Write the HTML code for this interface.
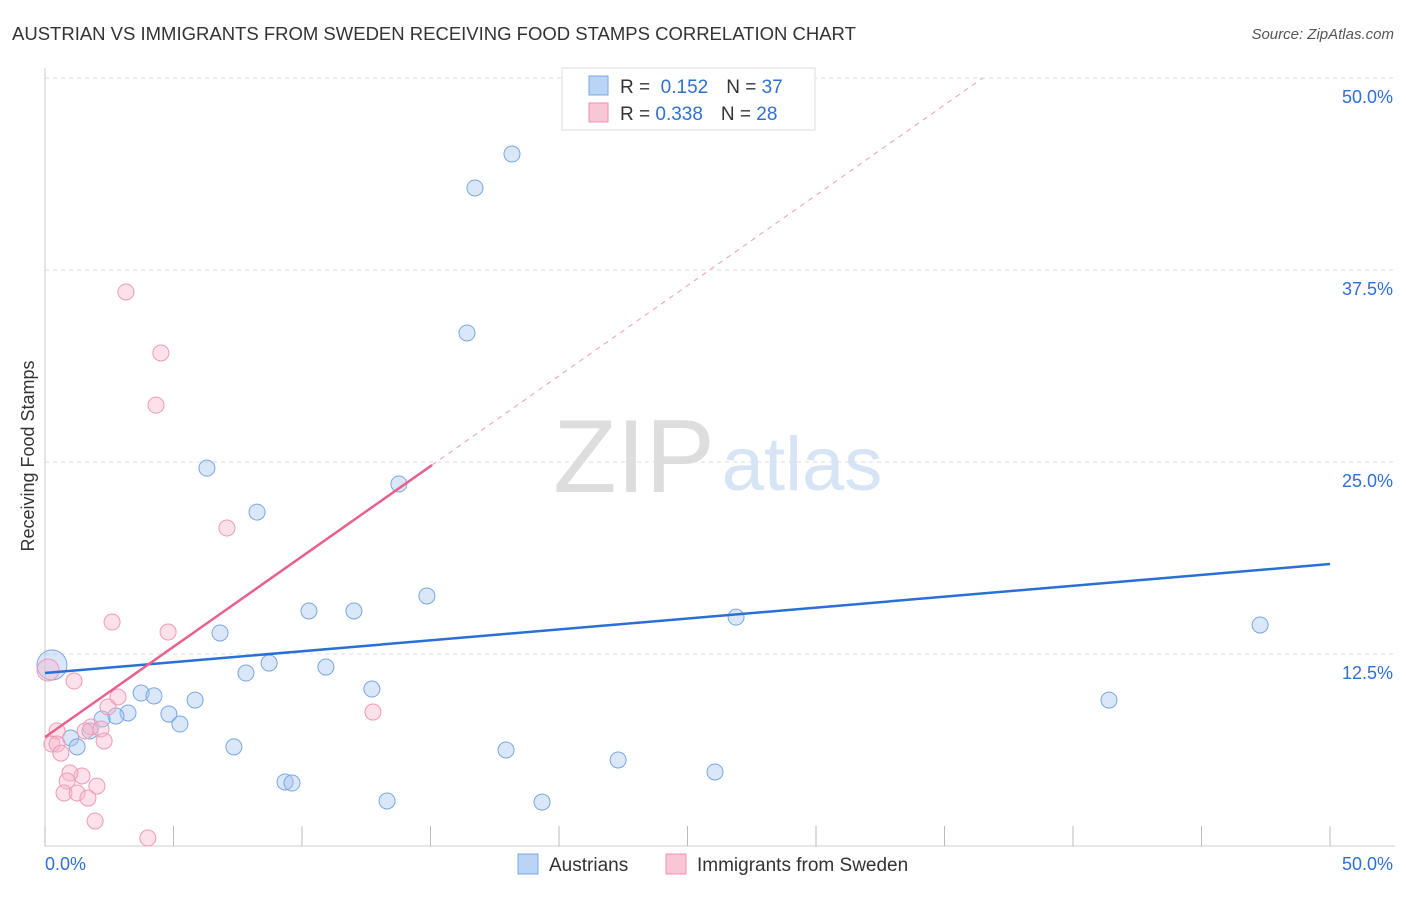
<!DOCTYPE html>
<html><head><meta charset="utf-8"><style>
body{margin:0;background:#fff;font-family:"Liberation Sans",sans-serif;}
svg text{font-family:"Liberation Sans",sans-serif;}
</style></head><body>
<svg id="chart" width="1406" height="892" xmlns="http://www.w3.org/2000/svg">
<text x="12" y="40" font-size="18.5" fill="#333">AUSTRIAN VS IMMIGRANTS FROM SWEDEN RECEIVING FOOD STAMPS CORRELATION CHART</text>
<text x="1394" y="39" font-size="15" fill="#555" font-style="italic" text-anchor="end">Source: ZipAtlas.com</text>
<text x="634" y="492" font-size="104" fill="#ddd" font-family="Liberation Serif" text-anchor="middle">ZIP</text>
<text x="802" y="490" font-size="76" fill="#d6e4f5" text-anchor="middle">atlas</text>
<text transform="translate(34,456) rotate(-90)" font-size="18" fill="#333" text-anchor="middle">Receiving Food Stamps</text>
<g id="grid"></g><g id="marks"></g>
<g>
<rect x="562" y="68" width="253" height="62" fill="#fff" stroke="#ddd"/>
<rect x="589" y="76" width="19" height="19" fill="#b9d4f5" stroke="#7aaae6"/>
<rect x="589" y="103" width="19" height="19" fill="#f9c6d6" stroke="#ee93b1"/>
<text x="620" y="93" font-size="19" fill="#333">R = <tspan fill="#2f6fd6">&#160;0.152</tspan><tspan dx="18">N = </tspan><tspan fill="#2f6fd6">37</tspan></text>
<text x="620" y="120" font-size="19" fill="#333">R = <tspan fill="#2f6fd6">0.338</tspan><tspan dx="18">N = </tspan><tspan fill="#2f6fd6">28</tspan></text>
</g>
<g>
<rect x="518" y="854" width="20" height="20" fill="#b9d4f5" stroke="#7aaae6"/>
<text x="549" y="871" font-size="19" fill="#333">Austrians</text>
<rect x="666" y="854" width="20" height="20" fill="#f9c6d6" stroke="#ee93b1"/>
<text x="697" y="871" font-size="19" fill="#333">Immigrants from Sweden</text>
</g>
</svg>
<script>
const yTicks=[12.5,25,37.5,50];
const yTickLabels=["12.5%","25.0%","37.5%","50.0%"];
const xTickLabels=["0.0%","50.0%"];
const blueX=[18.17,16.73,16.42,6.30,13.77,8.25,14.86,10.27,12.02,26.89,47.28,6.81,0.27,8.72,10.93,7.82,12.72,3.74,4.24,5.84,41.4,3.23,4.82,2.76,2.22,5.25,1.75,1.0,1.25,7.35,17.94,22.3,26.07,9.34,9.61,13.31,19.34];
const blueY=[45.05,42.84,33.4,24.6,23.57,21.74,16.28,15.3,15.3,14.9,14.39,13.87,11.78,11.91,11.65,11.26,10.22,9.96,9.77,9.5,9.5,8.66,8.59,8.46,8.27,7.94,7.49,7.03,6.45,6.45,6.25,5.6,4.82,4.17,4.1,2.93,2.86];
const pinkX=[3.15,4.51,4.32,7.08,2.61,4.79,0.12,1.13,2.84,2.45,12.76,1.79,1.56,2.18,0.47,2.3,0.27,0.47,0.62,1.44,0.97,0.86,2.02,0.74,1.25,1.67,1.95,4.0];
const pinkY=[36.07,32.1,28.7,20.7,14.58,13.93,11.46,10.74,9.7,9.05,8.72,7.75,7.49,7.62,7.49,6.84,6.64,6.64,6.05,4.56,4.75,4.23,3.9,3.45,3.45,3.12,1.63,0.52];
const blueTrend=[11.26,18.36];
const pinkTrend=[7.09,1.176];
const X=v=>45+v*25.7, Y=v=>846-v*15.36;
const NS="http://www.w3.org/2000/svg";
function mk(t,a,p){const e=document.createElementNS(NS,t);for(const k in a)e.setAttribute(k,a[k]);p.appendChild(e);return e;}
const g=document.getElementById('grid'), m=document.getElementById('marks');
yTicks.forEach((t,i)=>{
 const l=mk('line',{x1:45,x2:1395,y1:Y(t),y2:Y(t),stroke:'#ddd','stroke-dasharray':'4,4'},g);
 
 
 const tx=mk('text',{x:1393,y:Y(t)+25,'font-size':18,fill:'#2f6fd6','text-anchor':'end'},g);
 tx.textContent=yTickLabels[i];
 
 
});
mk('line',{x1:45,x2:45,y1:68,y2:846,stroke:'#ccc'},g);
mk('line',{x1:45,x2:1395,y1:846,y2:846,stroke:'#ccc'},g);
for(let i=0;i<=10;i++){mk('line',{x1:X(i*5),x2:X(i*5),y1:826,y2:846,stroke:'#bbb'},g);}
[[0,'start',45],[50,'end',1393]].forEach((d,i)=>{const tx=mk('text',{x:d[2],y:870,'font-size':18,fill:'#2f6fd6','text-anchor':d[1]},g);tx.textContent=xTickLabels[i];
 
 });
blueX.forEach((x,i)=>{const c=mk('circle',{cx:X(x),cy:Y(blueY[i]),r:i==12?15:8,fill:'rgba(160,196,240,0.4)',stroke:'#7aa7e0','stroke-width':1},m);
 
 });
pinkX.forEach((x,i)=>{const c=mk('circle',{cx:X(x),cy:Y(pinkY[i]),r:i==6?11:8,fill:'rgba(248,180,202,0.4)',stroke:'#ef9ab5','stroke-width':1},m);
 
 });
const bl=mk('line',{x1:X(0),y1:Y(blueTrend[0]),x2:X(50),y2:Y(blueTrend[1]),stroke:'#2a6fd6','stroke-width':2.5},m);


const pEnd=15.06, pDash=(50-pinkTrend[0])/pinkTrend[1];
const pl=mk('line',{x1:X(0),y1:Y(pinkTrend[0]),x2:X(pEnd),y2:Y(pinkTrend[0]+pinkTrend[1]*pEnd),stroke:'#e8608c','stroke-width':2.5},m);


const pd=mk('line',{x1:X(pEnd),y1:Y(pinkTrend[0]+pinkTrend[1]*pEnd),x2:X(pDash),y2:Y(50),stroke:'#eea0b8','stroke-width':1,'stroke-dasharray':'5,5'},m);


</script>
</body></html>
